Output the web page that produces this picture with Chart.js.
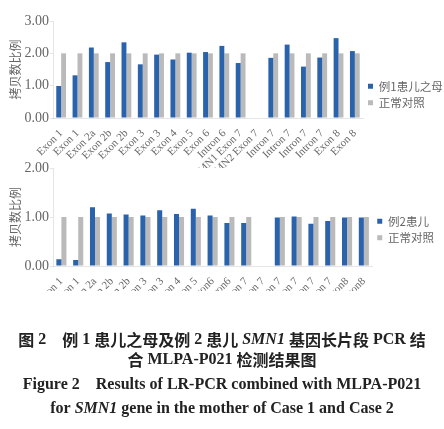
<!DOCTYPE html>
<html>
<head>
<meta charset="utf-8">
<script src="https://cdn.jsdelivr.net/npm/chart.js@4"></script>
<style>
  body { margin: 0; background: #fff; width: 444px; height: 429px; position: relative; overflow: hidden; }
  .box { position: absolute; left: 0; width: 444px; height: 175px; }
  #caption { position: absolute; left: 0; top: 325px; width: 444px; height: 104px; }
</style>
</head>
<body>
<div class="box" style="top:0"><canvas id="chart1"></canvas></div>
<div class="box" style="top:150px"><canvas id="chart2"></canvas></div>
<canvas id="caption" width="444" height="104"></canvas>
<script>
// 横軸のラベル
const labels1 = ['Exon 1', 'Exon 1', 'Exon 2a', 'Exon 2b', 'Exon 2b', 'Exon 3', 'Exon 3', 'Exon 4', 'Exon 5', 'Exon 6',
    'Intron 6', 'SMN1 Exon 7', 'SMN2 Exon 7', 'Intron 7', 'Intron 7', 'Intron 7', 'Intron 7', 'Exon 8', 'Exon 8'];
const labels2 = ['Exon 1', 'Exon 1', 'Exon 2a', 'Exon 2b', 'Exon 2b', 'Exon 3', 'Exon 3', 'Exon 4', 'Exon 5', 'Exon6',
    'Intron6', 'SMN1 Exon 7', 'SMN2 Exon 7', 'Intron 7', 'Intron 7', 'Intron 7', 'Intron 7', 'Exon8', 'Exon8'];

// 例1患儿之母 / 正常对照
const mother = [0.99, 1.32, 2.18, 1.73, 2.34, 1.66, 1.96, 1.81, 2.02, 2.04, 2.23, 1.70, null, 1.86, 2.27, 1.59, 1.87, 2.47, 2.07];
const control1 = [2, 2, 2, 2, 2, 2, 2, 2, 2, 2, 2, 2, null, 2, 2, 2, 2, 2, 2];

// 例2患儿 / 正常对照
const patient = [0.14, 0.12, 1.20, 1.07, 1.05, 1.03, 1.14, 1.06, 1.17, 1.03, 0.88, 0.88, null, 0.99, 1.01, 0.86, 0.92, 0.99, 0.99];
const control2 = [1, 1, 1, 1, 1, 1, 1, 1, 1, 1, 1, 1, null, 1, 1, 1, 1, 1, 1];

// 縦軸の目盛り
const yTicks1 = [0, 1, 2, 3];
const yTicks2 = [0, 1, 2];

const serif = "'Liberation Serif', serif";
const cjk = "'Noto Sans CJK SC', sans-serif";

function makeChart(id, labels, caseName, caseData, ctrlData, yTicks, padTop, padBottom, xHeight) {
    return new Chart(document.getElementById(id), {
        type: 'bar',
        data: { labels: labels, datasets: [
            { label: caseName, data: caseData, backgroundColor: '#2a63ab' },
            { label: '正常对照', data: ctrlData, backgroundColor: '#bababa' } ] },
        options: {
            responsive: true, maintainAspectRatio: false, animation: false,
            layout: { padding: { top: padTop, bottom: padBottom } },
            datasets: { bar: { categoryPercentage: 0.6, barPercentage: 1.0 } },
            plugins: {
                legend: {
                    position: 'right', maxWidth: 81,
                    labels: { boxWidth: 5, boxHeight: 5, padding: 5, font: { family: cjk, size: 11.5 } }
                }
            },
            scales: {
                x: { grid: { display: false },
                     ticks: { autoSkip: false, minRotation: 45, maxRotation: 45, padding: 1, font: { family: serif, size: 11 } },
                     afterFit: s => { s.height = xHeight; } },
                y: { min: 0, max: yTicks[yTicks.length - 1],
                     afterBuildTicks: s => { s.ticks = yTicks.map(v => ({ value: v })); },
                     grid: { drawOnChartArea: false, tickLength: 3 },
                     ticks: { padding: 1, font: { family: serif, size: 14 }, callback: v => v.toFixed(2) },
                     title: { display: true, text: '拷贝数比例', padding: { top: 8, bottom: 0 }, font: { family: cjk, size: 12 } },
                     afterFit: s => { s.width = 53; } }
            }
        }
    });
}

makeChart('chart1', labels1, '例1患儿之母', mother, control1, yTicks1, 21, 7, 50);
makeChart('chart2', labels2, '例2患儿', patient, control2, yTicks2, 18, 34, 25);

// 図の説明文（中英混在なので区切って描く）
const zh = "bold 16px 'Noto Sans CJK SC'";
const en = "bold 16px 'Liberation Serif'";
const it = "italic bold 16px 'Liberation Serif'";
const captionLines = [
    { y: 15, parts: [['图', zh], [' 2', en], ['　例', zh], [' 1 ', en], ['患儿之母及例', zh], [' 2 ', en], ['患儿', zh],
        [' ', en], ['SMN1', it], [' ', en], ['基因长片段', zh], [' PCR ', en], ['结', zh]] },
    { y: 35, parts: [['合', zh], [' MLPA-P021 ', en], ['检测结果图', zh]] },
    { y: 60, parts: [['Figure 2', en], ['　', zh], ['Results of LR-PCR combined with MLPA-P021', en]] },
    { y: 84, parts: [['for ', en], ['SMN1', it], [' gene in the mother of Case 1 and Case 2', en]] }
];
const cap = document.getElementById('caption').getContext('2d');
cap.fillStyle = '#222';
cap.textBaseline = 'middle';
captionLines.forEach(line => {
    let total = 0;
    line.parts.forEach(([t, f]) => { cap.font = f; total += cap.measureText(t).width; });
    let x = 222 - total / 2;
    line.parts.forEach(([t, f]) => {
        cap.font = f;
        cap.fillText(t, x, line.y);
        x += cap.measureText(t).width;
    });
});
</script>
</body>
</html>
